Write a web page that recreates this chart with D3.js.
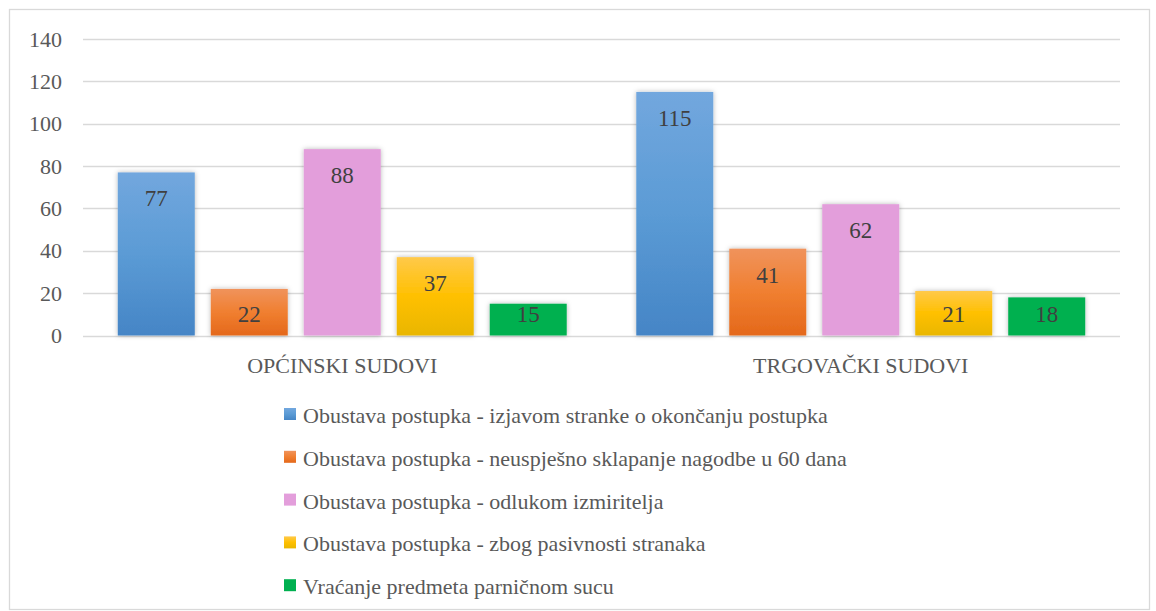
<!DOCTYPE html>
<html><head><meta charset="utf-8">
<script src="https://cdn.jsdelivr.net/npm/d3@7"></script>
<style>
html,body{margin:0;padding:0;background:#fff;}
#chart text{font-family:'Liberation Serif' !important;}
</style></head>
<body>
<svg id="chart" width="1156" height="611" style="font-family:'Liberation Serif'"></svg>
<script>
const categories = ["OPĆINSKI SUDOVI", "TRGOVAČKI SUDOVI"];
const seriesNames = [
  "Obustava postupka - izjavom stranke o okončanju postupka",
  "Obustava postupka - neuspješno sklapanje nagodbe u 60 dana",
  "Obustava postupka - odlukom izmiritelja",
  "Obustava postupka - zbog pasivnosti stranaka",
  "Vraćanje predmeta parničnom sucu"
];
const izjavom = [77, 115];
const neuspjesno = [22, 41];
const odlukom = [88, 62];
const pasivnost = [37, 21];
const vracanje = [15, 18];
const yTicks = [0, 20, 40, 60, 80, 100, 120, 140];

const seriesValues = [izjavom, neuspjesno, odlukom, pasivnost, vracanje];
const colorsTop = ["#72a7de", "#f0935c", "#e39edb", "#ffc94a", "#00b050"];
const colorsMid = ["#5b9bd5", "#f07f30", "#e39edb", "#ffc000", "#00b050"];
const colorsBot = ["#4585c6", "#e4681b", "#e39edb", "#e9b600", "#00b050"];

const svg = d3.select("#chart");
const SVGNS = "http://www.w3.org/2000/svg";
function fixFont(node) {
  node.style.setProperty("font-family", "'Liberation Serif'", "important");
}

// border
svg.append("rect").attr("x", 9.5).attr("y", 9.5).attr("width", 1140).attr("height", 600)
  .attr("fill", "#fff").attr("stroke", "#d9d9d9").attr("stroke-width", 1.3);

const defs = svg.append("defs");
seriesNames.forEach((s, i) => {
  const g = defs.append("linearGradient").attr("id", "g" + i)
    .attr("x1", 0).attr("y1", 0).attr("x2", 0).attr("y2", 1);
  g.append("stop").attr("offset", "0%").attr("stop-color", colorsTop[i]);
  g.append("stop").attr("offset", "50%").attr("stop-color", colorsMid[i]);
  g.append("stop").attr("offset", "100%").attr("stop-color", colorsBot[i]);
});
const f = defs.append("filter").attr("id", "shadow")
  .attr("x", "-20%").attr("y", "-20%").attr("width", "140%").attr("height", "140%");
f.append("feGaussianBlur").attr("in", "SourceAlpha").attr("stdDeviation", 2.5).attr("result", "b");
f.append("feFlood").attr("flood-color", "#000").attr("flood-opacity", 0.28);
f.append("feComposite").attr("in2", "b").attr("operator", "in").attr("result", "s");
const fm = f.append("feMerge");
fm.append("feMergeNode").attr("in", "s");
fm.append("feMergeNode").attr("in", "SourceGraphic");

const plotLeft = 83, plotRight = 1120, plotTop = 39, plotBottom = 335.5;
const y = d3.scaleLinear().domain([0, 140]).range([plotBottom, plotTop]);
const x0 = d3.scaleBand().domain(categories).range([plotLeft, plotRight]).padding(0);
const x1 = d3.scaleBand().domain(seriesNames).range([0, x0.bandwidth()])
  .paddingInner(0.172).paddingOuter(0.374);

// grid
svg.append("g").selectAll("line").data(yTicks).join("line")
  .attr("x1", plotLeft).attr("x2", plotRight)
  .attr("y1", d => Math.round(y(d)) + 0.5).attr("y2", d => Math.round(y(d)) + 0.5)
  .attr("stroke", "#d9d9d9").attr("stroke-width", 1.5);

// y axis labels
const yAxis = d3.axisLeft(y).tickValues(yTicks).tickSize(0).tickPadding(0);
const ya = svg.append("g").attr("transform", `translate(62,0)`).call(yAxis)
  .attr("font-family", null).attr("font-size", 22);
ya.select(".domain").remove();
ya.selectAll("text").attr("fill", "#595959").each(function () { fixFont(this); });

// bars
const groups = svg.append("g").selectAll("g").data(categories).join("g")
  .attr("transform", d => `translate(${x0(d)},0)`);
seriesNames.forEach((s, i) => {
  groups.append("rect")
    .attr("x", x1(s)).attr("width", x1.bandwidth())
    .attr("y", (d, ci) => y(seriesValues[i][ci]))
    .attr("height", (d, ci) => plotBottom - y(seriesValues[i][ci]))
    .attr("fill", `url(#g${i})`)
    .attr("filter", "url(#shadow)");
});
seriesNames.forEach((s, i) => {
  groups.append("text")
    .attr("x", x1(s) + x1.bandwidth() / 2)
    .attr("y", (d, ci) => Math.min(y(seriesValues[i][ci]) + 34, plotBottom - 14))
    .attr("text-anchor", "middle").attr("font-size", 23)
    .attr("fill", "#404040")
    .each(function (d, ci) { fixFont(this); this.textContent = String(seriesValues[i][ci]); });
});

// category labels
const xAxis = d3.axisBottom(x0).tickSize(0).tickPadding(0);
const xa = svg.append("g").attr("transform", `translate(0,${plotBottom})`).call(xAxis)
  .attr("font-family", null).attr("font-size", 22);
xa.select(".domain").remove();
xa.selectAll("text").attr("dy", 0).attr("y", 37).attr("fill", "#595959")
  .each(function () { fixFont(this); });

// legend
const lg = svg.append("g").selectAll("g").data(seriesNames).join("g")
  .attr("transform", (d, i) => `translate(284,${415 + i * 42.8})`);
lg.append("rect").attr("x", 0).attr("y", -7).attr("width", 12).attr("height", 12)
  .attr("fill", (d, i) => `url(#g${i})`);
lg.append("text").attr("x", 19).attr("y", 8).attr("font-size", 22).attr("fill", "#595959")
  .each(function (d) { fixFont(this); this.textContent = d; });

setTimeout(() => { document.querySelectorAll("#chart text").forEach(fixFont); }, 50);
</script>
</body></html>
